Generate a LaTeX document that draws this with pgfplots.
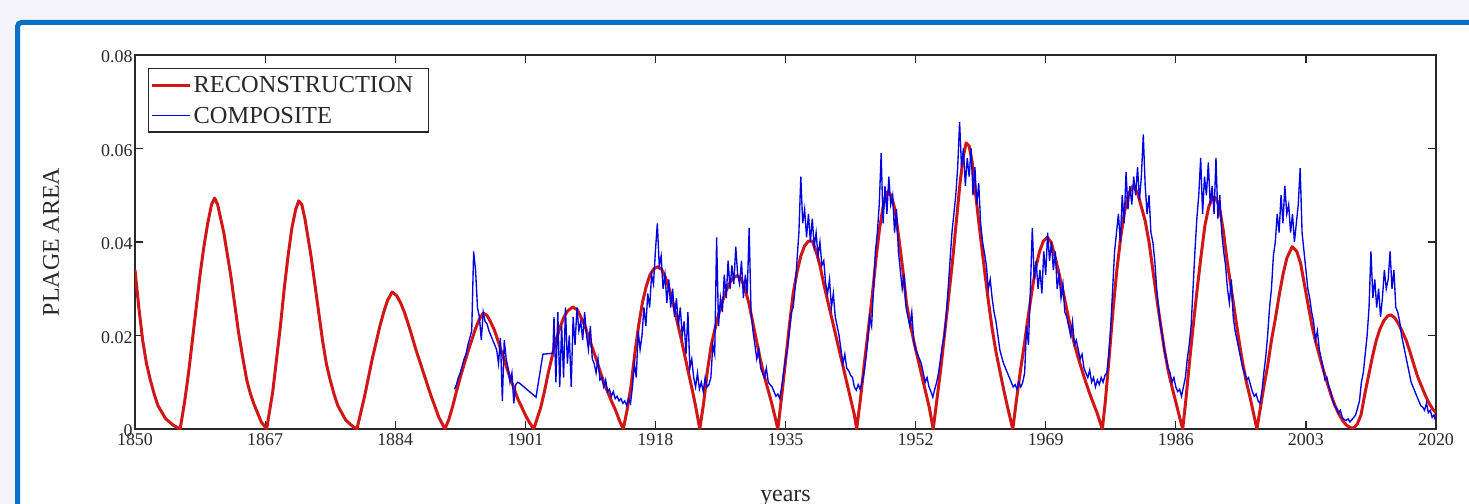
\documentclass[border=0pt]{standalone}
\usepackage{pgfplots}
\pgfplotsset{compat=1.18}
\usepackage{pgfplotstable}
\usepackage{fontspec}
\setmainfont{Liberation Serif}

\definecolor{pagebg}{RGB}{244,244,250}
\definecolor{framebl}{RGB}{10,112,200}
\definecolor{reconred}{RGB}{208,22,22}
\definecolor{compblue}{RGB}{0,0,225}
\definecolor{inkgray}{RGB}{40,40,40}

% smoothed reconstruction of the plage area index
\pgfplotstableread{
year val
1850 0.034
1850.5 0.026
1851 0.019
1851.5 0.014
1852 0.0105
1852.5 0.0075
1853 0.005
1854 0.0022
1855 0.0008
1855.9 0
1856.5 0.006
1857 0.012
1857.5 0.019
1858 0.026
1858.5 0.033
1859 0.039
1859.5 0.044
1860 0.048
1860.4 0.0494
1860.8 0.048
1861.2 0.045
1861.6 0.042
1862 0.038
1862.5 0.033
1863 0.027
1863.5 0.021
1864 0.016
1864.6 0.0105
1865 0.008
1865.5 0.0055
1866 0.0035
1866.5 0.0015
1867.2 0
1867.6 0.004
1868 0.008
1868.5 0.015
1869 0.022
1869.5 0.030
1870 0.037
1870.5 0.043
1871 0.047
1871.4 0.0488
1871.8 0.048
1872.2 0.045
1872.6 0.041
1873 0.037
1873.5 0.031
1874 0.025
1874.5 0.019
1875 0.014
1875.5 0.0105
1876 0.0075
1876.5 0.005
1877 0.0035
1877.5 0.002
1878 0.0012
1878.5 0.0005
1879 0
1879.5 0.0035
1880 0.007
1880.5 0.011
1881 0.015
1881.5 0.0185
1882 0.022
1882.5 0.025
1883 0.0275
1883.6 0.0293
1884.2 0.0285
1884.7 0.027
1885.2 0.025
1885.7 0.0225
1886.2 0.0198
1886.7 0.017
1887.2 0.0145
1887.7 0.012
1888.2 0.0095
1888.7 0.007
1889.2 0.0048
1889.7 0.0025
1890.5 0
1891 0.002
1891.5 0.0048
1892 0.008
1892.5 0.011
1893 0.0138
1893.5 0.0165
1894 0.019
1894.5 0.0215
1895 0.0235
1895.5 0.0248
1896 0.0243
1896.5 0.0228
1897 0.021
1897.5 0.0185
1898 0.016
1898.5 0.0135
1899 0.011
1899.5 0.0088
1900 0.0065
1900.5 0.0048
1901 0.003
1901.5 0.0015
1902.1 0
1902.5 0.002
1903 0.0045
1903.5 0.008
1904 0.012
1904.5 0.0155
1905 0.019
1905.5 0.0215
1906 0.0238
1906.5 0.0252
1907.2 0.0261
1907.8 0.0255
1908.3 0.0238
1908.8 0.022
1909.3 0.0195
1909.8 0.0172
1910.3 0.0148
1910.8 0.0122
1911.3 0.0098
1911.8 0.0078
1912.3 0.0058
1912.8 0.004
1913.3 0.0018
1913.8 0
1914.3 0.004
1914.8 0.009
1915.3 0.016
1915.8 0.022
1916.3 0.027
1916.8 0.0305
1917.3 0.033
1917.8 0.0343
1918.3 0.0347
1918.8 0.0342
1919.3 0.0325
1919.8 0.030
1920.3 0.027
1920.8 0.0233
1921.3 0.0198
1921.8 0.016
1922.3 0.0122
1922.8 0.0085
1923.3 0.0045
1923.8 0
1924.3 0.0055
1924.8 0.0125
1925.3 0.018
1925.8 0.0215
1926.3 0.0248
1926.8 0.0275
1927.3 0.0298
1927.8 0.0315
1928.3 0.0325
1928.7 0.0328
1929.2 0.0322
1929.7 0.030
1930.2 0.027
1930.7 0.023
1931.2 0.019
1931.7 0.015
1932.2 0.0115
1932.7 0.0085
1933.2 0.0055
1933.6 0.0028
1934 0
1934.5 0.007
1935 0.0145
1935.5 0.022
1936 0.029
1936.5 0.0335
1937 0.037
1937.5 0.0392
1938 0.0402
1938.5 0.0402
1939 0.038
1939.5 0.035
1940 0.031
1940.5 0.0275
1941 0.024
1941.5 0.0205
1942 0.017
1942.5 0.0135
1943 0.010
1943.5 0.0065
1944 0.003
1944.3 0
1944.8 0.0065
1945.3 0.014
1945.8 0.021
1946.3 0.028
1946.8 0.036
1947.3 0.043
1947.8 0.048
1948.3 0.0507
1948.8 0.050
1949.3 0.047
1949.8 0.041
1950.3 0.0345
1950.8 0.027
1951.3 0.0225
1951.8 0.0185
1952.3 0.015
1952.8 0.0115
1953.3 0.008
1953.8 0.0045
1954.3 0
1954.8 0.0065
1955.3 0.013
1955.8 0.0205
1956.3 0.028
1956.8 0.0355
1957.3 0.044
1957.8 0.0525
1958.2 0.058
1958.6 0.0612
1959 0.0605
1959.4 0.057
1959.8 0.051
1960.2 0.045
1960.6 0.0395
1961 0.034
1961.5 0.0275
1962 0.0215
1962.5 0.0165
1963 0.0125
1963.5 0.0085
1964 0.0048
1964.4 0.002
1964.7 0
1965.2 0.0065
1965.7 0.0125
1966.2 0.018
1966.7 0.024
1967.2 0.0295
1967.7 0.0345
1968.2 0.038
1968.7 0.0402
1969.2 0.041
1969.7 0.040
1970.2 0.037
1970.7 0.0335
1971.2 0.030
1971.7 0.026
1972.2 0.022
1972.7 0.0185
1973.2 0.0155
1973.7 0.0128
1974.2 0.0102
1974.7 0.0078
1975.2 0.0056
1975.7 0.0035
1976.1 0.0015
1976.4 0
1976.8 0.006
1977.3 0.0155
1977.8 0.0255
1978.3 0.034
1978.8 0.041
1979.3 0.0465
1979.8 0.0502
1980.4 0.052
1981 0.0505
1981.5 0.0475
1982 0.0445
1982.5 0.040
1983 0.034
1983.5 0.028
1984 0.0225
1984.5 0.017
1985 0.0125
1985.5 0.009
1986 0.0058
1986.5 0.0025
1986.9 0
1987.3 0.006
1987.8 0.0145
1988.3 0.0225
1988.8 0.030
1989.3 0.037
1989.8 0.0435
1990.3 0.0475
1990.8 0.0495
1991.2 0.0495
1991.7 0.0475
1992.2 0.0425
1992.7 0.036
1993.2 0.0305
1993.7 0.025
1994.2 0.0195
1994.7 0.0145
1995.2 0.0102
1995.7 0.0068
1996.2 0.003
1996.6 0
1997 0.004
1997.5 0.009
1998 0.0135
1998.5 0.019
1999 0.0235
1999.5 0.0285
2000 0.033
2000.5 0.0365
2001.2 0.039
2001.8 0.038
2002.3 0.0355
2002.8 0.031
2003.3 0.0265
2003.8 0.022
2004.3 0.0185
2004.8 0.0155
2005.3 0.0125
2005.8 0.0098
2006.3 0.0072
2006.8 0.005
2007.3 0.0032
2007.8 0.0018
2008.3 0.0008
2008.8 0.0003
2009.2 0.0002
2009.7 0.001
2010.2 0.003
2010.7 0.0075
2011.2 0.0115
2011.7 0.0155
2012.2 0.019
2012.7 0.0215
2013.2 0.0232
2013.7 0.0242
2014.1 0.0244
2014.6 0.0238
2015.1 0.0225
2015.6 0.0208
2016.1 0.019
2016.6 0.0165
2017.1 0.0138
2017.6 0.0112
2018.1 0.0092
2018.6 0.0072
2019.1 0.0055
2019.6 0.0042
2020 0.0035
}\recon

% composite plage area record, quarterly samples
\pgfplotstableread{
year val
1891.75 0.0085
1892.00 0.0095
1892.25 0.0110
1892.50 0.0120
1892.75 0.0135
1893.00 0.0150
1893.25 0.0160
1893.50 0.0180
1893.75 0.0195
1894.00 0.0210
1894.25 0.0380
1894.50 0.0340
1894.75 0.0260
1895.00 0.0240
1895.25 0.0190
1895.50 0.0250
1895.75 0.0230
1896.00 0.0225
1896.25 0.0210
1896.50 0.0200
1896.75 0.0190
1897.00 0.0180
1897.25 0.0170
1897.50 0.0140
1897.75 0.0195
1898.00 0.0060
1898.25 0.0190
1898.50 0.0150
1898.75 0.0130
1899.00 0.0100
1899.25 0.0120
1899.50 0.0055
1899.75 0.0095
1900.00 0.0100
1900.25 0.0098
1902.40 0.0068
1903.30 0.0160
1904.60 0.0162
1904.75 0.0240
1905.00 0.0100
1905.25 0.0250
1905.50 0.0090
1905.75 0.0220
1906.00 0.0110
1906.25 0.0260
1906.50 0.0140
1906.75 0.0200
1907.00 0.0090
1907.25 0.0240
1907.50 0.0180
1907.75 0.0260
1908.00 0.0210
1908.25 0.0230
1908.50 0.0190
1908.75 0.0250
1909.00 0.0200
1909.25 0.0170
1909.50 0.0220
1909.75 0.0150
1910.00 0.0140
1910.25 0.0120
1910.50 0.0150
1910.75 0.0105
1911.00 0.0110
1911.25 0.0090
1911.50 0.0105
1911.75 0.0080
1912.00 0.0085
1912.25 0.0070
1912.50 0.0080
1912.75 0.0065
1913.00 0.0070
1913.25 0.0060
1913.50 0.0065
1913.75 0.0055
1914.00 0.0060
1914.25 0.0050
1914.50 0.0065
1914.75 0.0055
1915.00 0.0090
1915.25 0.0140
1915.50 0.0110
1915.75 0.0210
1916.00 0.0170
1916.25 0.0200
1916.50 0.0260
1916.75 0.0220
1917.00 0.0290
1917.25 0.0260
1917.50 0.0330
1917.75 0.0310
1918.00 0.0380
1918.25 0.0440
1918.50 0.0350
1918.75 0.0370
1919.00 0.0300
1919.25 0.0330
1919.50 0.0270
1919.75 0.0320
1920.00 0.0260
1920.25 0.0300
1920.50 0.0240
1920.75 0.0280
1921.00 0.0220
1921.25 0.0260
1921.50 0.0200
1921.75 0.0230
1922.00 0.0160
1922.25 0.0250
1922.50 0.0130
1922.75 0.0150
1923.00 0.0110
1923.25 0.0090
1923.50 0.0120
1923.75 0.0085
1924.00 0.0100
1924.25 0.0080
1924.50 0.0110
1924.75 0.0090
1925.00 0.0095
1925.25 0.0110
1925.50 0.0180
1925.75 0.0160
1926.00 0.0410
1926.25 0.0220
1926.50 0.0280
1926.75 0.0250
1927.00 0.0330
1927.25 0.0280
1927.50 0.0360
1927.75 0.0300
1928.00 0.0350
1928.25 0.0310
1928.50 0.0390
1928.75 0.0330
1929.00 0.0310
1929.25 0.0360
1929.50 0.0280
1929.75 0.0330
1930.00 0.0290
1930.25 0.0430
1930.50 0.0250
1930.75 0.0210
1931.00 0.0180
1931.25 0.0150
1931.50 0.0170
1931.75 0.0130
1932.00 0.0120
1932.25 0.0110
1932.50 0.0130
1932.75 0.0100
1933.00 0.0095
1933.25 0.0090
1933.50 0.0080
1933.75 0.0070
1934.00 0.0075
1934.25 0.0065
1934.50 0.0090
1934.75 0.0120
1935.00 0.0150
1935.25 0.0170
1935.50 0.0210
1935.75 0.0250
1936.00 0.0260
1936.25 0.0300
1936.50 0.0360
1936.75 0.0420
1937.00 0.0540
1937.25 0.0440
1937.50 0.0470
1937.75 0.0410
1938.00 0.0460
1938.25 0.0400
1938.50 0.0450
1938.75 0.0390
1939.00 0.0420
1939.25 0.0370
1939.50 0.0400
1939.75 0.0350
1940.00 0.0360
1940.25 0.0310
1940.50 0.0290
1940.75 0.0320
1941.00 0.0260
1941.25 0.0290
1941.50 0.0240
1941.75 0.0220
1942.00 0.0200
1942.25 0.0170
1942.50 0.0140
1942.75 0.0160
1943.00 0.0130
1943.25 0.0125
1943.50 0.0115
1943.75 0.0110
1944.00 0.0090
1944.25 0.0083
1944.50 0.0095
1944.75 0.0085
1945.00 0.0100
1945.25 0.0120
1945.50 0.0150
1945.75 0.0190
1946.00 0.0240
1946.25 0.0220
1946.50 0.0300
1946.75 0.0380
1947.00 0.0420
1947.25 0.0480
1947.50 0.0590
1947.75 0.0440
1948.00 0.0520
1948.25 0.0460
1948.50 0.0540
1948.75 0.0480
1949.00 0.0500
1949.25 0.0420
1949.50 0.0470
1949.75 0.0380
1950.00 0.0340
1950.25 0.0300
1950.50 0.0330
1950.75 0.0260
1951.00 0.0240
1951.25 0.0220
1951.50 0.0250
1951.75 0.0190
1952.00 0.0170
1952.25 0.0160
1952.50 0.0150
1952.75 0.0140
1953.00 0.0120
1953.25 0.0100
1953.50 0.0110
1953.75 0.0090
1954.00 0.0080
1954.25 0.0068
1954.50 0.0085
1954.75 0.0100
1955.00 0.0120
1955.25 0.0150
1955.50 0.0180
1955.75 0.0200
1956.00 0.0240
1956.25 0.0300
1956.50 0.0360
1956.75 0.0420
1957.00 0.0460
1957.25 0.0500
1957.50 0.0560
1957.75 0.0657
1958.00 0.0560
1958.25 0.0600
1958.50 0.0520
1958.75 0.0580
1959.00 0.0540
1959.25 0.0600
1959.50 0.0500
1959.75 0.0560
1960.00 0.0480
1960.25 0.0526
1960.50 0.0440
1960.75 0.0400
1961.00 0.0376
1961.25 0.0350
1961.50 0.0300
1961.75 0.0320
1962.00 0.0280
1962.25 0.0250
1962.50 0.0230
1962.75 0.0200
1963.00 0.0170
1963.25 0.0154
1963.50 0.0140
1963.75 0.0130
1964.00 0.0120
1964.25 0.0110
1964.50 0.0100
1964.75 0.0090
1965.00 0.0095
1965.25 0.0085
1965.50 0.0100
1965.75 0.0090
1966.00 0.0100
1966.25 0.0120
1966.50 0.0220
1966.75 0.0180
1967.00 0.0300
1967.25 0.0430
1967.50 0.0320
1967.75 0.0360
1968.00 0.0300
1968.25 0.0340
1968.50 0.0290
1968.75 0.0380
1969.00 0.0330
1969.25 0.0420
1969.50 0.0360
1969.75 0.0400
1970.00 0.0340
1970.25 0.0380
1970.50 0.0300
1970.75 0.0330
1971.00 0.0280
1971.25 0.0310
1971.50 0.0250
1971.75 0.0240
1972.00 0.0220
1972.25 0.0200
1972.50 0.0230
1972.75 0.0180
1973.00 0.0190
1973.25 0.0170
1973.50 0.0150
1973.75 0.0160
1974.00 0.0130
1974.25 0.0120
1974.50 0.0110
1974.75 0.0126
1975.00 0.0100
1975.25 0.0110
1975.50 0.0090
1975.75 0.0105
1976.00 0.0095
1976.25 0.0110
1976.50 0.0100
1976.75 0.0115
1977.00 0.0120
1977.25 0.0160
1977.50 0.0220
1977.75 0.0300
1978.00 0.0380
1978.25 0.0420
1978.50 0.0460
1978.75 0.0400
1979.00 0.0500
1979.25 0.0440
1979.50 0.0550
1979.75 0.0470
1980.00 0.0520
1980.25 0.0480
1980.50 0.0540
1980.75 0.0500
1981.00 0.0560
1981.25 0.0490
1981.50 0.0540
1981.75 0.0630
1982.00 0.0520
1982.25 0.0460
1982.50 0.0500
1982.75 0.0420
1983.00 0.0400
1983.25 0.0360
1983.50 0.0300
1983.75 0.0260
1984.00 0.0220
1984.25 0.0200
1984.50 0.0170
1984.75 0.0150
1985.00 0.0130
1985.25 0.0120
1985.50 0.0100
1985.75 0.0110
1986.00 0.0090
1986.25 0.0080
1986.50 0.0085
1986.75 0.0070
1987.00 0.0090
1987.25 0.0110
1987.50 0.0150
1987.75 0.0180
1988.00 0.0220
1988.25 0.0300
1988.50 0.0380
1988.75 0.0450
1989.00 0.0500
1989.25 0.0580
1989.50 0.0460
1989.75 0.0540
1990.00 0.0500
1990.25 0.0570
1990.50 0.0480
1990.75 0.0520
1991.00 0.0460
1991.25 0.0580
1991.50 0.0450
1991.75 0.0500
1992.00 0.0420
1992.25 0.0380
1992.50 0.0350
1992.75 0.0300
1993.00 0.0270
1993.25 0.0320
1993.50 0.0240
1993.75 0.0210
1994.00 0.0190
1994.25 0.0170
1994.50 0.0150
1994.75 0.0130
1995.00 0.0120
1995.25 0.0105
1995.50 0.0110
1995.75 0.0095
1996.00 0.0080
1996.25 0.0070
1996.50 0.0075
1996.75 0.0060
1997.00 0.0055
1997.25 0.0080
1997.50 0.0120
1997.75 0.0154
1998.00 0.0200
1998.25 0.0260
1998.50 0.0300
1998.75 0.0370
1999.00 0.0400
1999.25 0.0460
1999.50 0.0420
1999.75 0.0500
2000.00 0.0440
2000.25 0.0520
2000.50 0.0460
2000.75 0.0480
2001.00 0.0420
2001.25 0.0460
2001.50 0.0400
2001.75 0.0440
2002.00 0.0480
2002.25 0.0558
2002.50 0.0420
2002.75 0.0380
2003.00 0.0340
2003.25 0.0300
2003.50 0.0280
2003.75 0.0250
2004.00 0.0230
2004.25 0.0190
2004.50 0.0210
2004.75 0.0170
2005.00 0.0150
2005.25 0.0130
2005.50 0.0105
2005.75 0.0110
2006.00 0.0090
2006.25 0.0080
2006.50 0.0060
2006.75 0.0050
2007.00 0.0045
2007.25 0.0034
2007.50 0.0040
2007.75 0.0025
2008.00 0.0020
2008.25 0.0018
2008.50 0.0022
2008.75 0.0015
2009.00 0.0020
2009.25 0.0025
2009.50 0.0030
2009.75 0.0045
2010.00 0.0060
2010.25 0.0100
2010.50 0.0120
2010.75 0.0160
2011.00 0.0200
2011.25 0.0260
2011.50 0.0380
2011.75 0.0280
2012.00 0.0320
2012.25 0.0260
2012.50 0.0300
2012.75 0.0240
2013.00 0.0280
2013.25 0.0340
2013.50 0.0300
2013.75 0.0320
2014.00 0.0380
2014.25 0.0300
2014.50 0.0340
2014.75 0.0260
2015.00 0.0250
2015.25 0.0230
2015.50 0.0200
2015.75 0.0180
2016.00 0.0160
2016.25 0.0140
2016.50 0.0120
2016.75 0.0100
2017.00 0.0090
2017.25 0.0080
2017.50 0.0070
2017.75 0.0060
2018.00 0.0050
2018.25 0.0047
2018.50 0.0040
2018.75 0.0055
2019.00 0.0035
2019.25 0.0040
2019.50 0.0025
2019.75 0.0030
2019.90 0.0020
}\composite

\begin{document}
\begin{tikzpicture}
\useasboundingbox (0bp,0bp) rectangle (1469bp,504bp);
\fill[pagebg] (0bp,0bp) rectangle (1469bp,504bp);
\begin{scope}
  \clip (0bp,0bp) rectangle (1469bp,504bp);
  \draw[framebl, line width=5bp, fill=white, rounded corners=4bp]
    (17.5bp,481.5bp) rectangle (1500bp,-30bp);
\end{scope}
\begin{axis}[
  at={(135bp,75bp)}, anchor=south west,
  scale only axis, width=1301bp, height=374bp,
  xmin=1850, xmax=2020, ymin=0, ymax=0.08,
  xtick={1850,1867,1884,1901,1918,1935,1952,1969,1986,2003,2020},
  xticklabels={1850,1867,1884,1901,1918,1935,1952,1969,1986,2003,2020},
  ytick={0,0.02,0.04,0.06,0.08},
  yticklabels={0,0.02,0.04,0.06,0.08},
  scaled y ticks=false, scaled x ticks=false,
  tick align=inside,
  major tick length=8bp,
  axis line style={line width=1.5bp, draw=inkgray},
  every tick/.style={line width=1.2bp, draw=inkgray},
  ticklabel style={font=\fontsize{18}{20}\selectfont, text=inkgray},
  xticklabel style={yshift=-1bp},
  yticklabel style={xshift=1bp, yshift=-2bp},
  xlabel={years},
  ylabel={PLAGE AREA},
  xlabel style={font=\fontsize{24}{26}\selectfont, text=inkgray,
    at={(axis description cs:0.5,-0.193)}, anchor=base},
  ylabel style={font=\fontsize{24}{26}\selectfont, text=inkgray,
    at={(axis description cs:-0.0645,0.5)}, anchor=center},
  legend style={at={(0.01,0.965)}, anchor=north west,
    draw=inkgray, line width=1.3bp, fill=white,
    font=\fontsize{24.5}{26}\selectfont, text=inkgray,
    inner xsep=2bp, inner ysep=5.5bp, row sep=9bp,
    nodes={inner sep=2bp}},
  legend cell align=left,
  legend image code/.code={\draw[#1] (0bp,0bp) -- (38bp,0bp);},
]
\addplot[reconred, line width=3bp, line join=round] table[x=year, y=val] {\recon};
\addlegendentry{RECONSTRUCTION\hspace*{11bp}}
\addplot[compblue, line width=1.35bp, line join=miter] table[x=year, y=val] {\composite};
\addlegendentry{COMPOSITE}
\end{axis}
\end{tikzpicture}
\end{document}
